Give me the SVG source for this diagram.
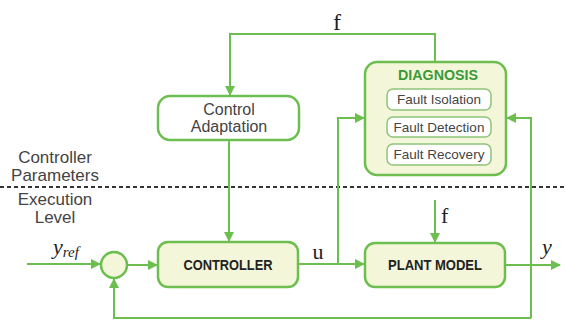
<svg xmlns="http://www.w3.org/2000/svg" width="566" height="320" viewBox="0 0 566 320">
<style>
.box{fill:#f4f6da;stroke:#6cbf4f;stroke-width:2.5}
.wbox{fill:#ffffff;stroke:#6cbf4f;stroke-width:2.5}
.ibox{fill:#ffffff;stroke:#8fc47a;stroke-width:1.5}
.ln{fill:none;stroke:#6cbf4f;stroke-width:2}
.arr{fill:none;stroke:#6cbf4f;stroke-width:2;marker-end:url(#ah)}
.lbl{font-family:"Liberation Sans",Arial,sans-serif;fill:#444;text-anchor:middle}
.bold{font-family:"Liberation Sans",Arial,sans-serif;font-weight:bold;fill:#222;text-anchor:middle}
.math{font-family:"Liberation Serif","Times New Roman",serif;fill:#222}
</style>
<defs>
<marker id="ah" viewBox="0 0 10 10" refX="9" refY="5" markerWidth="5" markerHeight="5" orient="auto" markerUnits="strokeWidth">
<path d="M0,0 L10,5 L0,10 z" fill="#6cbf4f"/>
</marker>
</defs>
<rect width="566" height="320" fill="#ffffff"/>

<g id="levels">
<text class="lbl" x="55" y="163" font-size="17">Controller</text>
<text class="lbl" x="55" y="181" font-size="17">Parameters</text>
<line x1="0" y1="187" x2="566" y2="187" stroke="#333" stroke-width="2" stroke-dasharray="4,3"/>
<text class="lbl" x="55" y="205" font-size="17">Execution</text>
<text class="lbl" x="55" y="223" font-size="17">Level</text>
</g>

<g id="connectors">
<path class="ln" d="M435,62 V34 H230 V70"/>
<path class="arr" d="M230,68 V95"/>
<path class="arr" d="M229,140 V241"/>
<path class="arr" d="M27,264 H100"/>
<path class="arr" d="M127,265 H157"/>
<path class="ln" d="M298,264 H338"/>
<path class="arr" d="M338,264 H364"/>
<path class="arr" d="M338,264 V118 H364"/>
<path class="arr" d="M435,200 V242"/>
<path class="arr" d="M505,265 H560"/>
<path class="arr" d="M531,318 V118 H507"/>
<path class="arr" d="M531,318 H114 V279"/>
</g>

<g id="labels">
<text class="math" x="337" y="30" font-size="24" text-anchor="middle">f</text>
<text class="math" x="53" y="254" font-size="22" font-style="italic">y<tspan font-size="15" dy="3">ref</tspan></text>
<text class="math" x="318" y="259" font-size="22" text-anchor="middle">u</text>
<text class="math" x="441" y="223" font-size="22">f</text>
<text class="math" x="542" y="254" font-size="22" font-style="italic">y</text>
</g>

<g id="control-adaptation">
<rect class="wbox" x="158" y="96" width="141" height="44" rx="12"/>
<text class="lbl" x="229" y="115" font-size="16">Control</text>
<text class="lbl" x="229" y="132" font-size="16">Adaptation</text>
</g>

<g id="diagnosis">
<rect class="box" x="365" y="62" width="141" height="113" rx="12"/>
<text class="bold" x="438" y="80" font-size="14" style="fill:#3a9a3a" textLength="80" lengthAdjust="spacingAndGlyphs">DIAGNOSIS</text>
<g id="fault-isolation">
<rect class="ibox" x="387" y="89" width="104" height="21" rx="6"/>
<text class="lbl" x="439" y="104" font-size="13.5">Fault Isolation</text>
</g>
<g id="fault-detection">
<rect class="ibox" x="387" y="117" width="104" height="20" rx="6"/>
<text class="lbl" x="439" y="132" font-size="13.5">Fault Detection</text>
</g>
<g id="fault-recovery">
<rect class="ibox" x="387" y="144" width="104" height="21" rx="6"/>
<text class="lbl" x="439" y="159" font-size="13.5">Fault Recovery</text>
</g>
</g>

<g id="sum">
<circle cx="114" cy="265" r="13" fill="#f4f6da" stroke="#6cbf4f" stroke-width="2.5"/>
</g>

<g id="controller">
<rect class="box" x="158" y="242" width="140" height="45" rx="10"/>
<text class="bold" x="228" y="270" font-size="15" textLength="89" lengthAdjust="spacingAndGlyphs">CONTROLLER</text>
</g>

<g id="plant-model">
<rect class="box" x="365" y="243" width="140" height="44" rx="10"/>
<text class="bold" x="435" y="270" font-size="15" textLength="94" lengthAdjust="spacingAndGlyphs">PLANT MODEL</text>
</g>
</svg>
